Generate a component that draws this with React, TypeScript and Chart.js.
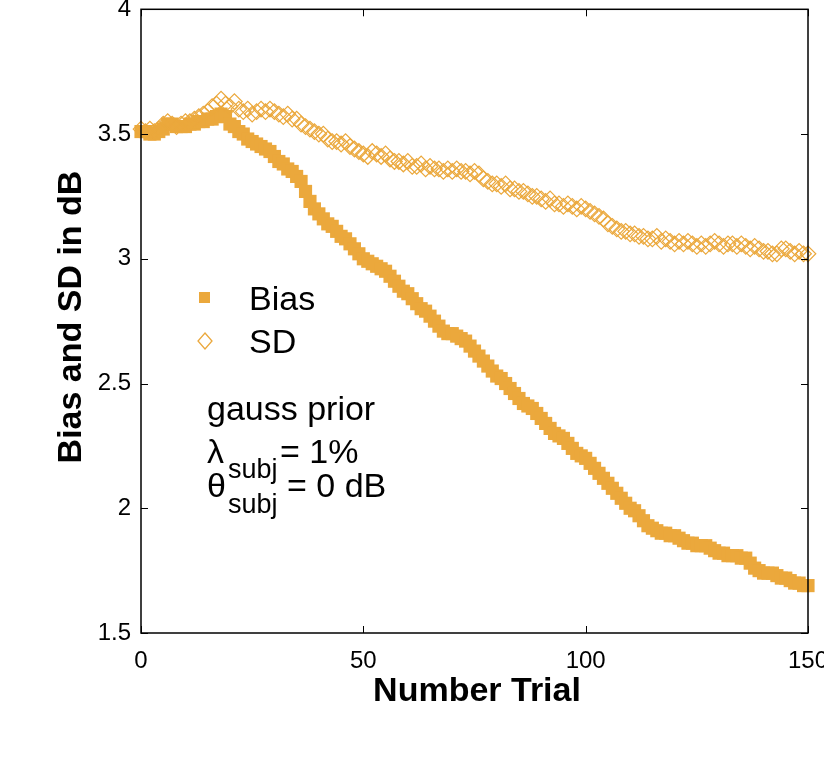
import { useEffect, useRef } from "react";
import { Chart, registerables } from "chart.js";

Chart.register(...registerables);

const trialCount = 151;
const trials: number[] = Array.from({ length: trialCount }, (_, i) => i);

const biasValues: number[] = [
  3.51, 3.51, 3.50, 3.50, 3.51, 3.52, 3.54, 3.54, 3.53, 3.53,
  3.53, 3.54, 3.54, 3.55, 3.55, 3.56, 3.56, 3.57, 3.58, 3.57,
  3.54, 3.53, 3.51, 3.50, 3.48, 3.47, 3.46, 3.45, 3.44, 3.43,
  3.41, 3.39, 3.38, 3.36, 3.35, 3.33, 3.31, 3.27, 3.23, 3.20,
  3.18, 3.16, 3.14, 3.13, 3.11, 3.09, 3.08, 3.06, 3.04, 3.02,
  3.00, 2.99, 2.98, 2.97, 2.96, 2.95, 2.93, 2.91, 2.89, 2.87,
  2.86, 2.84, 2.82, 2.80, 2.79, 2.77, 2.75, 2.73, 2.71, 2.70,
  2.70, 2.69, 2.68, 2.67, 2.65, 2.63, 2.61, 2.59, 2.57, 2.55,
  2.53, 2.52, 2.50, 2.48, 2.46, 2.44, 2.42, 2.41, 2.40, 2.38,
  2.36, 2.34, 2.32, 2.30, 2.29, 2.28, 2.26, 2.24, 2.22, 2.21,
  2.20, 2.18, 2.16, 2.14, 2.12, 2.10, 2.08, 2.06, 2.04, 2.02,
  2.00, 1.99, 1.97, 1.95, 1.93, 1.92, 1.91, 1.90, 1.90, 1.89,
  1.89, 1.88, 1.87, 1.86, 1.86, 1.85, 1.85, 1.85, 1.84, 1.83,
  1.82, 1.82, 1.81, 1.81, 1.81, 1.80, 1.80, 1.78, 1.76, 1.75,
  1.74, 1.74, 1.74, 1.73, 1.72, 1.72, 1.71, 1.70, 1.70, 1.69,
  1.69,
];

const sdValues: number[] = [
  3.52, 3.51, 3.52, 3.51, 3.52, 3.54, 3.55, 3.54, 3.53, 3.54,
  3.55, 3.55, 3.56, 3.57, 3.58, 3.59, 3.61, 3.62, 3.64, 3.62,
  3.61, 3.63, 3.60, 3.59, 3.60, 3.58, 3.59, 3.60, 3.59, 3.60,
  3.59, 3.58, 3.57, 3.58, 3.56, 3.56, 3.54, 3.53, 3.52, 3.51,
  3.50, 3.50, 3.48, 3.47, 3.47, 3.46, 3.47, 3.45, 3.44, 3.43,
  3.42, 3.41, 3.43, 3.42, 3.41, 3.42, 3.40, 3.39, 3.39, 3.38,
  3.39, 3.37, 3.37, 3.38, 3.36, 3.37, 3.36, 3.36, 3.35, 3.36,
  3.35, 3.36, 3.35, 3.35, 3.34, 3.35, 3.34, 3.32, 3.31, 3.30,
  3.30, 3.29, 3.30, 3.28, 3.28, 3.27, 3.27, 3.26, 3.25, 3.25,
  3.24, 3.23, 3.24, 3.22, 3.22, 3.21, 3.22, 3.21, 3.20, 3.21,
  3.20, 3.19, 3.18, 3.17, 3.16, 3.14, 3.13, 3.12, 3.11, 3.11,
  3.10, 3.10, 3.09, 3.09, 3.08, 3.08, 3.09, 3.07, 3.08, 3.07,
  3.06, 3.07, 3.06, 3.07, 3.06, 3.05, 3.06, 3.05, 3.06, 3.07,
  3.06, 3.05, 3.06, 3.06, 3.05, 3.06, 3.05, 3.04, 3.05, 3.04,
  3.03, 3.03, 3.02, 3.02, 3.04, 3.04, 3.03, 3.02, 3.03, 3.02,
  3.02,
];

const xTickValues: number[] = [0, 50, 100, 150];
const yTickValues: number[] = [1.5, 2, 2.5, 3, 3.5, 4];
const seriesNames: string[] = ["Bias", "SD"];
const xAxisTitle = "Number Trial";
const yAxisTitle = "Bias and SD in dB";
const noteTitle = "gauss prior";
const noteLambda = { symbol: "λ", sub: "subj", rest: "= 1%" };
const noteTheta = { symbol: "θ", sub: "subj", rest: "= 0 dB" };

const ORANGE = "rgb(235,168,60)";
const FONT = '"Liberation Sans", Arial, Helvetica, sans-serif';

const overlayPlugin = {
  id: "overlay",
  afterDraw(chart: any) {
    const { ctx, chartArea, scales } = chart;
    const { left, right, top, bottom } = chartArea;
    const xs = scales.x;
    const ys = scales.y;
    ctx.save();
    // axes box
    ctx.strokeStyle = "#000";
    ctx.lineWidth = 1.5;
    ctx.strokeRect(left, top, right - left, bottom - top);
    ctx.lineWidth = 1;
    ctx.beginPath();
    xTickValues.forEach((v) => {
      const px = Math.round(xs.getPixelForValue(v)) + 0.5;
      ctx.moveTo(px, bottom);
      ctx.lineTo(px, bottom - 7);
      ctx.moveTo(px, top);
      ctx.lineTo(px, top + 7);
    });
    yTickValues.forEach((v) => {
      const py = Math.round(ys.getPixelForValue(v)) + 0.5;
      ctx.moveTo(left, py);
      ctx.lineTo(left + 7, py);
      ctx.moveTo(right, py);
      ctx.lineTo(right - 7, py);
    });
    ctx.stroke();

    // legend
    ctx.fillStyle = ORANGE;
    ctx.fillRect(199, 292, 11, 11);
    ctx.strokeStyle = ORANGE;
    ctx.lineWidth = 1.3;
    ctx.beginPath();
    ctx.moveTo(205, 333);
    ctx.lineTo(212, 341);
    ctx.lineTo(205, 349);
    ctx.lineTo(198, 341);
    ctx.closePath();
    ctx.stroke();

    ctx.fillStyle = "#000";
    ctx.textAlign = "left";
    ctx.textBaseline = "alphabetic";
    ctx.font = `34px ${FONT}`;
    ctx.fillText(seriesNames[0], 249, 310);
    ctx.fillText(seriesNames[1], 249, 353);

    // note
    ctx.fillText(noteTitle, 207, 420);
    ctx.fillText(noteLambda.symbol, 207, 463);
    ctx.fillText(noteLambda.rest, 280, 463);
    ctx.fillText(noteTheta.symbol, 207, 497);
    ctx.fillText(noteTheta.rest, 287, 497);
    ctx.font = `27px ${FONT}`;
    ctx.fillText(noteLambda.sub, 228, 478);
    ctx.fillText(noteTheta.sub, 228, 513);

    // axis titles
    ctx.font = `bold 34px ${FONT}`;
    ctx.textAlign = "center";
    ctx.fillText(xAxisTitle, 477, 701);
    ctx.translate(81, 317);
    ctx.rotate(-Math.PI / 2);
    ctx.fillText(yAxisTitle, 0, 0);
    ctx.restore();
  },
};

export default function App() {
  const canvasRef = useRef<HTMLCanvasElement | null>(null);

  useEffect(() => {
    const canvas = canvasRef.current;
    if (!canvas) return;
    const chart = new Chart(canvas, {
      type: "scatter",
      data: {
        datasets: [
          {
            label: seriesNames[1],
            data: trials.map((t, i) => ({ x: t, y: sdValues[i] })),
            pointStyle: "rectRot",
            pointRadius: 7.8,
            pointHoverRadius: 7.8,
            borderColor: ORANGE,
            backgroundColor: "rgba(0,0,0,0)",
            pointBorderWidth: 1.2,
            showLine: false,
            clip: false,
            order: 0,
          },
          {
            label: seriesNames[0],
            data: trials.map((t, i) => ({ x: t, y: biasValues[i] })),
            pointStyle: "rect",
            pointRadius: 9.3,
            pointHoverRadius: 9.3,
            borderColor: ORANGE,
            backgroundColor: ORANGE,
            pointBorderWidth: 0,
            showLine: false,
            clip: false,
            order: 1,
          },
        ],
      },
      options: {
        responsive: false,
        animation: false,
        devicePixelRatio: 1,
        layout: { padding: { left: 0, right: 16, top: 5, bottom: 0 } },
        plugins: {
          legend: { display: false },
          tooltip: { enabled: false },
        },
        scales: {
          x: {
            type: "linear",
            min: 0,
            max: 150,
            grid: { display: false, drawTicks: false },
            border: { display: false },
            afterBuildTicks: (scale: any) => {
              scale.ticks = xTickValues.map((v) => ({ value: v }));
            },
            afterFit: (scale: any) => {
              scale.height = 127;
              scale.paddingLeft = 0;
              scale.paddingRight = 0;
            },
            ticks: {
              autoSkip: false,
              maxRotation: 0,
              padding: 14,
              color: "#000",
              font: { family: FONT, size: 24 },
              callback: (v: any) => String(v),
            },
          },
          y: {
            type: "linear",
            min: 1.5,
            max: 4,
            grid: { display: false, drawTicks: false },
            border: { display: false },
            afterBuildTicks: (scale: any) => {
              scale.ticks = yTickValues.map((v) => ({ value: v }));
            },
            afterFit: (scale: any) => {
              scale.width = 141;
              scale.paddingTop = 0;
              scale.paddingBottom = 0;
            },
            ticks: {
              autoSkip: false,
              padding: 10,
              color: "#000",
              font: { family: FONT, size: 24 },
              callback: (v: any) => String(v),
            },
          },
        },
      },
      plugins: [overlayPlugin],
    });
    return () => chart.destroy();
  }, []);

  return (
    <div style={{ position: "absolute", left: 0, top: 0, width: 824, height: 760, background: "#fff" }}>
      <canvas ref={canvasRef} width={824} height={760} />
    </div>
  );
}
